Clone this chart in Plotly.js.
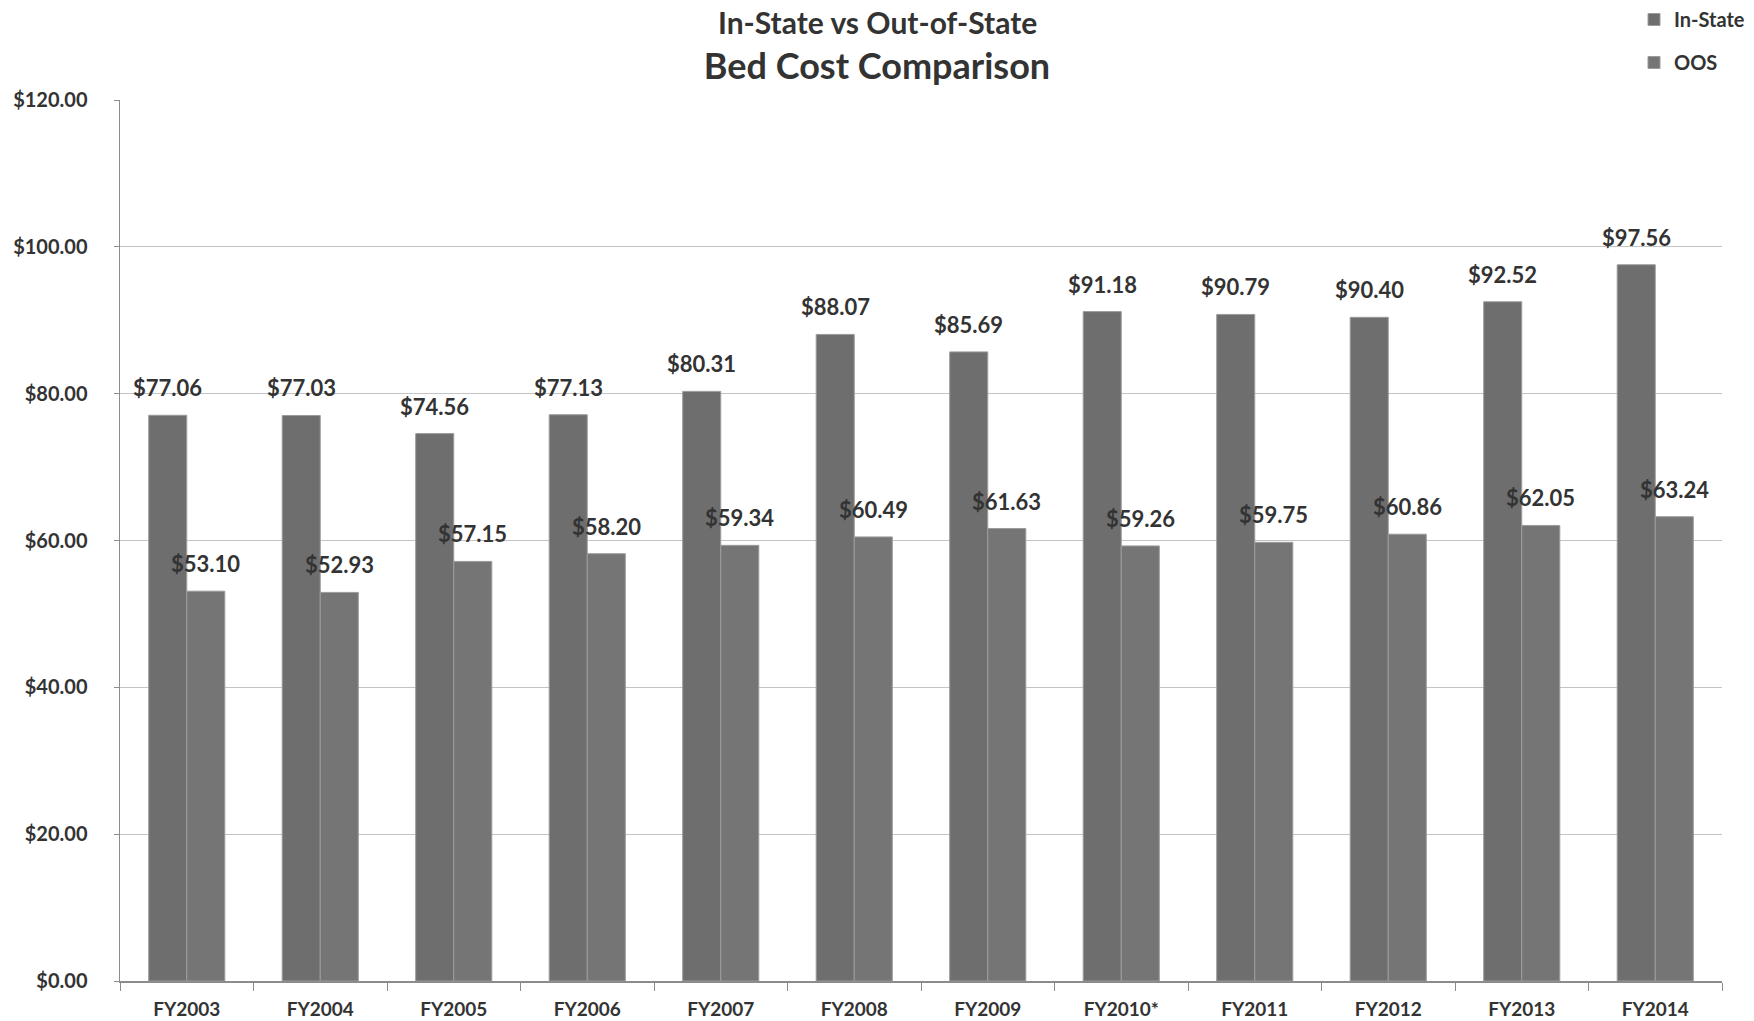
<!DOCTYPE html>
<html>
<head>
<meta charset="utf-8">
<script src="https://cdn.plot.ly/plotly-3.0.1.min.js"></script>
<style>html,body{margin:0;padding:0;background:#fff;}#chart{width:1754px;height:1021px;}</style>
</head>
<body>
<div id="chart"></div>
<script>
const categories = ['FY2003','FY2004','FY2005','FY2006','FY2007','FY2008','FY2009','FY2010*','FY2011','FY2012','FY2013','FY2014'];
const inState = [77.06, 77.03, 74.56, 77.13, 80.31, 88.07, 85.69, 91.18, 90.79, 90.40, 92.52, 97.56];
const oos = [53.10, 52.93, 57.15, 58.20, 59.34, 60.49, 61.63, 59.26, 59.75, 60.86, 62.05, 63.24];
const yTicks = [0, 20, 40, 60, 80, 100, 120];

const FONT = 'Lato, "Open Sans", sans-serif';
const fmt = v => '$' + v.toFixed(2);

const traces = [
  {type:'bar', name:'In-State', x:categories, y:inState, legendgroup:'a',
   marker:{color:'#6e6e6e', line:{color:'#9c9c9c', width:1}}, hoverinfo:'y'},
  {type:'bar', name:'OOS', x:categories, y:oos, legendgroup:'b',
   marker:{color:'#757575', line:{color:'#9c9c9c', width:1}}, hoverinfo:'y'}
];

const labelFont = {family:FONT, size:22, color:'#333', weight:'bold'};
const annotations = [];
categories.forEach((c, i) => {
  annotations.push({x:c, y:inState[i], xref:'x', yref:'y', text:fmt(inState[i]), showarrow:false,
    xshift:-19, yshift:12, yanchor:'bottom', font:labelFont});
  annotations.push({x:c, y:oos[i], xref:'x', yref:'y', text:fmt(oos[i]), showarrow:false,
    xshift:19, yshift:12, yanchor:'bottom', font:labelFont});
});
// first title line
annotations.push({text:'In-State vs Out-of-State', xref:'paper', yref:'paper', x:(877 - 120) / 1602, y:(981 - 22) / 881,
  xanchor:'center', yanchor:'middle', showarrow:false, borderpad:0,
  font:{family:FONT, size:30, color:'#333', weight:'bold'}});

const layout = {
  width:1754, height:1021,
  paper_bgcolor:'#fff', plot_bgcolor:'#fff',
  margin:{l:120, r:32, t:100, b:40, autoexpand:false},
  font:{family:FONT, color:'#333'},
  title:{text:'Bed Cost Comparison', xref:'container', yref:'container', x:0.5, y:1 - 66/1021,
    xanchor:'center', yanchor:'middle', font:{family:FONT, size:36, color:'#333', weight:'bold'}},
  barmode:'group', bargap:0.43, bargroupgap:0,
  showlegend:true,
  legend:{xref:'container', yref:'container', x:1634/1754, y:1, xanchor:'left', yanchor:'top',
    font:{family:FONT, size:20, color:'#333', weight:'bold'}, traceorder:'grouped', tracegroupgap:14,
    itemwidth:30, bgcolor:'rgba(0,0,0,0)'},
  xaxis:{type:'category', showline:true, linecolor:'#8c8c8c', linewidth:1.5, ticks:'outside', tickson:'boundaries',
    ticklen:8, tickcolor:'#8c8c8c', ticklabelstandoff:11, showgrid:false,
    tickfont:{family:FONT, size:19, color:'#333', weight:'bold'}},
  yaxis:{range:[0,120], tickvals:yTicks, tickformat:'$.2f', showline:true, linecolor:'#8c8c8c', linewidth:1.5,
    ticks:'outside', ticklen:5, tickcolor:'#8c8c8c', gridcolor:'#c4c4c4', gridwidth:1, zeroline:false,
    ticklabelstandoff:22, tickfont:{family:FONT, size:20, color:'#333', weight:'bold'}},
  annotations:annotations
};

Plotly.newPlot('chart', traces, layout, {displayModeBar:false, staticPlot:true});
</script>
</body>
</html>
